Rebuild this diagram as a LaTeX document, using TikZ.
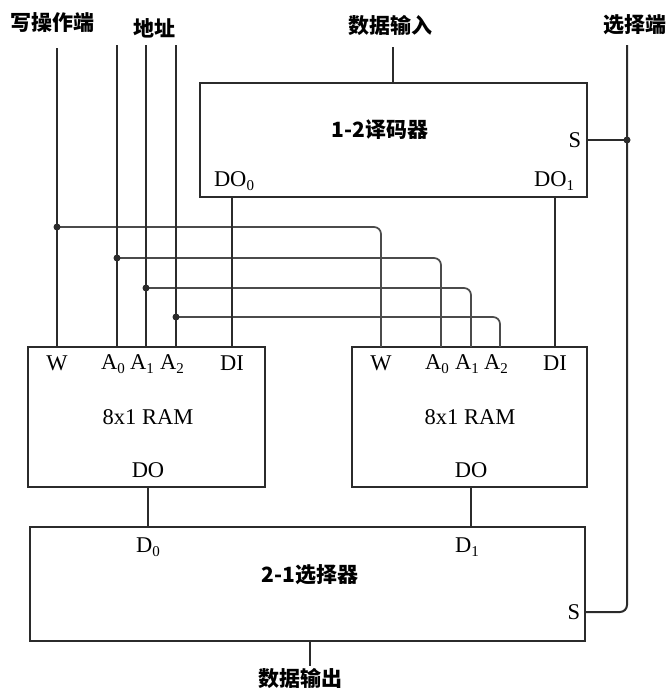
\documentclass[tikz,border=0pt]{standalone}
\usepackage{fontspec}
\setmainfont{Liberation Serif}
\newfontfamily\cjk{Noto Sans CJK SC}
\usetikzlibrary{positioning}

\definecolor{wire}{HTML}{2B2B2B}
\newcommand{\idx}[1]{\lower.4ex\hbox{\fontsize{15}{15}\selectfont #1}}

\begin{document}
\begin{tikzpicture}[x=1pt, y=-1pt,
  blk/.style={draw=wire, line width=2pt, inner sep=0pt},
  wirel/.style={draw=wire, line width=2pt},
  bus/.style={draw=wire!85, line width=1.7pt, rounded corners=7pt},
  pin/.style={font=\fontsize{22.5}{24}\selectfont, inner sep=0pt},
  lbl/.style={font=\cjk\bfseries\fontsize{21}{24}\selectfont, inner sep=0pt},
  dot/.style={circle, fill=wire, inner sep=0pt, minimum size=7pt}
]
\useasboundingbox (0,0) rectangle (670,691);

% blocks
\node[blk, minimum width=387pt, minimum height=114pt] (dec) at (393.5,140) {};
\node[blk, minimum width=237pt, minimum height=140pt] (ram1) at (146.5,417) {};
\node[blk, minimum width=235pt, minimum height=140pt] (ram2) at (469.5,417) {};
\node[blk, minimum width=555pt, minimum height=114pt] (mux) at (307.5,584) {};

\node[lbl] (dectitle) at (380,130) {1-2译码器};
\node[pin] (ram1title) at (148,417) {8x1 RAM};
\node[pin] (ram2title) at (470,417) {8x1 RAM};
\node[lbl] (muxtitle) at (310,575) {2-1选择器};

% outside labels
\node[lbl] (wrlbl) at (52,23) {写操作端};
\node[lbl] (addrlbl) at (154,28) {地址};
\node[lbl] (dinlbl) at (390,25) {数据输入};
\node[lbl] (sellbl) at (635,25) {选择端};
\node[lbl] (doutlbl) at (300,678) {数据输出};

% wire ends
\coordinate (wtop) at (57,48);
\coordinate (a0top) at (117,45);
\coordinate (a1top) at (146,45);
\coordinate (a2top) at (176,45);
\coordinate (dintop) at (393,47);
\coordinate (seltop) at (627,45);
\coordinate (doutend) at (310,666);

% pins
\coordinate (r1pw) at (57,347);
\coordinate (r1pa0) at (117,347);
\coordinate (r1pa1) at (146,347);
\coordinate (r1pa2) at (176,347);
\coordinate (r1pdi) at (232,347);
\coordinate (r2pw) at (381,347);
\coordinate (r2pa0) at (441,347);
\coordinate (r2pa1) at (471,347);
\coordinate (r2pa2) at (500,347);
\coordinate (r2pdi) at (555,347);

\node[pin] (r1w) at (57,363) {W};
\node[pin] (r1a0) at (113,364) {A\idx{0}};
\node[pin] (r1a1) at (142,364) {A\idx{1}};
\node[pin] (r1a2) at (172,364) {A\idx{2}};
\node[pin] (r1di) at (232,363) {DI};
\node[pin] (r1do) at (148,470) {DO};
\node[pin] (r2w) at (381,363) {W};
\node[pin] (r2a0) at (437,364) {A\idx{0}};
\node[pin] (r2a1) at (467,364) {A\idx{1}};
\node[pin] (r2a2) at (496,364) {A\idx{2}};
\node[pin] (r2di) at (555,363) {DI};
\node[pin] (r2do) at (471,470) {DO};

\node[pin] (decdo0) at (234,181) {DO\idx{0}};
\node[pin] (decdo1) at (554,181) {DO\idx{1}};
\node[pin] (decs) at (575,140) {S};

\node[pin] (muxd0) at (148,547) {D\idx{0}};
\node[pin] (muxd1) at (467,547) {D\idx{1}};
\node[pin] (muxs) at (574,612) {S};

% junctions
\coordinate (jw) at (57,227);
\coordinate (ja0) at (117,258);
\coordinate (ja1) at (146,288);
\coordinate (ja2) at (176,317);
\coordinate (jsel) at (627,140);

% buses to second RAM
\draw[bus] (jw) -- (jw -| r2pw) -- (r2pw);
\draw[bus] (ja0) -- (ja0 -| r2pa0) -- (r2pa0);
\draw[bus] (ja1) -- (ja1 -| r2pa1) -- (r2pa1);
\draw[bus] (ja2) -- (ja2 -| r2pa2) -- (r2pa2);

% inputs
\draw[wirel] (wtop) -- (r1pw);
\draw[wirel] (a0top) -- (r1pa0);
\draw[wirel] (a1top) -- (r1pa1);
\draw[wirel] (a2top) -- (r1pa2);
\draw[wirel] (dintop) -- (dintop |- dec.north);
\draw[wirel] (r1pdi |- dec.south) -- (r1pdi);
\draw[wirel] (r2pdi |- dec.south) -- (r2pdi);
\draw[wirel] (dec.east |- decs) -- (jsel);
\draw[wirel, rounded corners=7pt] (seltop) -- (seltop |- muxs) -- (mux.east |- muxs);

% outputs
\draw[wirel] (r1do |- ram1.south) -- (r1do |- mux.north);
\draw[wirel] (r2do |- ram2.south) -- (r2do |- mux.north);
\draw[wirel] (doutend |- mux.south) -- (doutend);

\foreach \j in {jw, ja0, ja1, ja2, jsel}
  \node[dot] at (\j) {};
\end{tikzpicture}
\end{document}
